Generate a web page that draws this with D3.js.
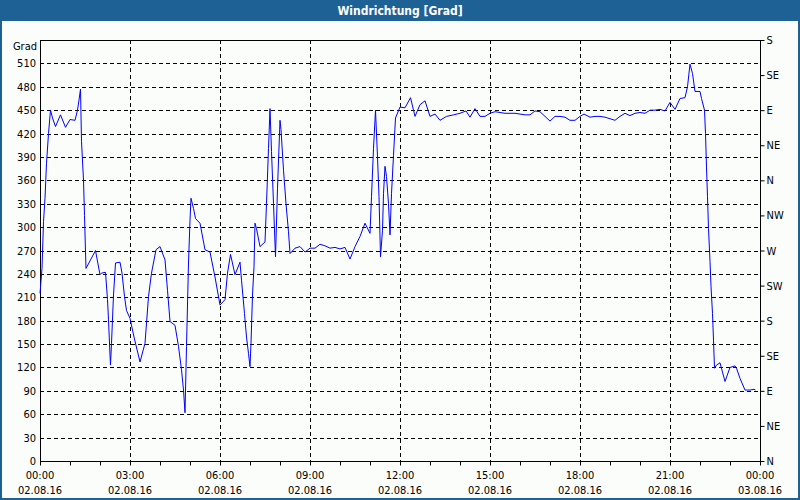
<!DOCTYPE html>
<html><head><meta charset="utf-8">
<script src="https://cdn.jsdelivr.net/npm/d3@7"></script>
<style>
html,body{margin:0;padding:0;background:#fff;}
svg{display:block;}
text{font-family:"DejaVu Sans Condensed","DejaVu Sans",sans-serif;}
</style></head>
<body>
<svg id="chart" width="800" height="500"></svg>
<script>
const title = "Windrichtung [Grad]";
const unitLabel = "Grad";
// minutes since 02.08.16 00:00
const minutes = [0,4,7,10,13,17,21,25,31,41,51,60,70,75,78,81,83,87,89,91,92,111,120,123,131,135,137,140,141,143,147,151,160,164,169,173,180,188,200,210,217,223,232,240,250,255,260,270,277,283,287,290,293,297,300,302,307,311,320,330,340,350,360,370,375,381,390,400,403,409,413,417,420,422,425,428,430,433,440,450,453,457,460,463,467,471,475,480,482,487,492,497,500,510,520,530,540,550,560,570,580,590,600,610,620,630,640,650,660,663,667,671,675,678,681,685,687,690,693,697,700,703,707,711,720,730,741,750,760,770,780,790,800,813,827,840,852,860,870,880,890,900,910,930,950,970,980,990,1000,1010,1020,1030,1040,1050,1060,1070,1080,1088,1100,1110,1120,1130,1140,1150,1160,1170,1180,1190,1200,1210,1220,1230,1240,1250,1260,1270,1280,1290,1295,1300,1305,1310,1320,1323,1329,1331,1333,1335,1337,1340,1342,1345,1347,1349,1353,1360,1370,1380,1390,1393,1400,1410,1420,1428,1431];
const direction = [215,247,307,337,382,420,450,440,429,444,428,438,437,450,463,477,410,360,315,268,247,270,239,241,242,207,181,136,123,151,213,254,255,241,211,193,183,159,127,151,211,241,271,275,258,219,179,174,147,117,91,62,147,254,309,337,324,311,305,271,268,236,200,207,241,265,239,255,232,189,159,138,121,151,213,249,305,298,275,281,330,401,452,397,330,262,350,437,425,373,330,294,266,273,275,268,273,273,278,276,273,274,272,274,259,275,288,305,292,339,401,450,390,339,262,296,343,378,365,330,290,343,392,440,454,453,466,442,457,462,442,445,437,442,444,446,449,441,452,442,442,446,448,446,446,444,444,449,448,442,436,442,442,441,437,437,442,445,441,442,442,441,439,437,442,446,443,446,447,446,450,450,451,449,460,451,465,466,480,509,497,474,474,465,450,420,377,339,298,256,224,189,155,119,123,126,102,120,122,119,106,91,91,92,91];
const leftTicks = [0,30,60,90,120,150,180,210,240,270,300,330,360,390,420,450,480,510];
const rightTicks = [0,45,90,135,180,225,270,315,360,405,450,495,540];
const rightLabels = ["N","NE","E","SE","S","SW","W","NW","N","NE","E","SE","S"];
const xTickHours = [0,3,6,9,12,15,18,21,24];
const xTimeLabels = ["00:00","03:00","06:00","09:00","12:00","15:00","18:00","21:00","00:00"];
const xDateLabels = ["02.08.16","02.08.16","02.08.16","02.08.16","02.08.16","02.08.16","02.08.16","02.08.16","03.08.16"];

const svg = d3.select("#chart");
const W = 800, H = 500;
const L = 40, R = 760, T = 40, B = 461;
const font = "11px";

// background and frame
svg.append("rect").attr("x",0).attr("y",0).attr("width",W).attr("height",H).attr("fill","#1d6195");
svg.append("rect").attr("x",2).attr("y",21).attr("width",W-4).attr("height",H-23).attr("fill","#fbfdfb");
svg.append("text").attr("x",W/2).attr("y",15).attr("text-anchor","middle")
  .attr("fill","#ffffff").attr("font-size","12px").attr("font-weight","bold").text(title);

const x = d3.scaleLinear().domain([0,1440]).range([L,R]);
const y = d3.scaleLinear().domain([0,540]).range([B,T]);

// horizontal grid
svg.append("g").selectAll("line").data(leftTicks.filter(d=>d>0)).join("line")
  .attr("x1",L).attr("x2",R).attr("y1",d=>Math.round(y(d))+0.5).attr("y2",d=>Math.round(y(d))+0.5)
  .attr("stroke","#000").attr("stroke-width",1).attr("stroke-dasharray","4,3");
// vertical grid
svg.append("g").selectAll("line").data(xTickHours.filter(h=>h>0&&h<24)).join("line")
  .attr("x1",d=>Math.round(x(d*60))+0.5).attr("x2",d=>Math.round(x(d*60))+0.5).attr("y1",T).attr("y2",B)
  .attr("stroke","#000").attr("stroke-width",1).attr("stroke-dasharray","4,3");

// left axis labels
const yl = d3.axisLeft(y).tickValues(leftTicks).tickSize(0).tickPadding(4);
const gl = svg.append("g").attr("transform",`translate(${L},0)`).call(yl);
gl.select(".domain").remove();
gl.selectAll("text").attr("font-size",font).attr("fill","#000").attr("font-family",null);
svg.append("text").attr("x",37).attr("y",50).attr("text-anchor","end").attr("font-size",font).text(unitLabel);

// right axis
const yr = d3.axisRight(y).tickValues(rightTicks).tickFormat((d,i)=>rightLabels[i]).tickSize(4).tickPadding(2);
const gr = svg.append("g").attr("transform",`translate(${R+0.5},0)`).call(yr);
gr.select(".domain").remove();
gr.selectAll("line").attr("stroke","#000");
gr.selectAll("text").attr("font-size",font).attr("fill","#000").attr("font-family",null);

// bottom axis
const xb = d3.axisBottom(x).tickValues(d3.range(0,1441,60)).tickSize(4).tickFormat("");
const gb = svg.append("g").attr("transform",`translate(0,${B+0.5})`).call(xb);
gb.select(".domain").remove();
gb.selectAll("line").attr("stroke","#000");
const lab = svg.append("g");
lab.selectAll("text.t").data(xTickHours).join("text").attr("class","t")
  .attr("x",d=>x(d*60)).attr("y",479).attr("text-anchor","middle").attr("font-size",font)
  .text((d,i)=>xTimeLabels[i]);
lab.selectAll("text.d").data(xTickHours).join("text").attr("class","d")
  .attr("x",d=>x(d*60)).attr("y",494).attr("text-anchor","middle").attr("font-size",font)
  .text((d,i)=>xDateLabels[i]);

// plot frame (top, left, right, bottom)
svg.append("path").attr("d",`M${L+0.5},${B+0.5}V${T+0.5}H${R+0.5}V${B+0.5}H${L+0.5}`)
  .attr("fill","none").attr("stroke","#000").attr("stroke-width",1).attr("shape-rendering","crispEdges");

// data line
const pts = minutes.map((m,i)=>[m,direction[i]]);
svg.append("path").datum(pts)
  .attr("d",d3.line().x(d=>x(d[0])).y(d=>y(d[1])))
  .attr("fill","none").attr("stroke","#0000ff").attr("stroke-width",1);
</script>
</body></html>
